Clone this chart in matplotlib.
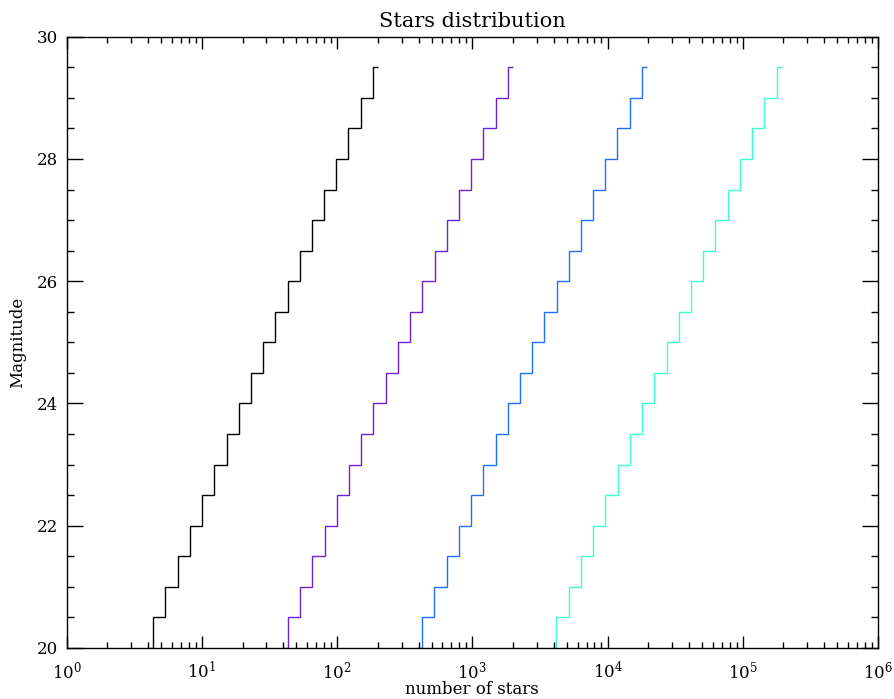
import matplotlib
matplotlib.use("Agg")
import matplotlib.pyplot as plt
from matplotlib.ticker import LogLocator, FixedLocator, MultipleLocator

plt.rcParams['font.family'] = ['DejaVu Serif']
plt.rcParams['mathtext.fontset'] = 'dejavuserif'

# magnitude levels (one horizontal step each)
magnitudes = [20.0, 20.5, 21.0, 21.5, 22.0, 22.5, 23.0, 23.5, 24.0, 24.5,
              25.0, 25.5, 26.0, 26.5, 27.0, 27.5, 28.0, 28.5, 29.0, 29.5]

# step edges along the "number of stars" axis, one list per curve
edges_black = [3.95, 4.33, 5.35, 6.6, 8.15, 10.0, 12.35, 15.2, 18.7, 23.0, 28.4,
               34.9, 43.0, 52.9, 65.1, 80.1, 98.6, 121, 149.5, 184, 202]
edges_purple = [39.2, 43.0, 53.1, 65.5, 80.9, 99.3, 122.6, 151, 185.7, 228, 282,
                347, 427, 525, 646, 795, 979, 1202, 1484, 1827, 2006]
edges_blue = [386, 423, 522, 644, 795, 976, 1205, 1484, 1825, 2245, 2772,
              3406, 4197, 5163, 6354, 7818, 9623, 11810, 14590, 17960, 19720]
edges_cyan = [3810, 4180, 5160, 6370, 7860, 9650, 11920, 14670, 18050, 22200, 27410,
              33680, 41500, 51050, 62820, 77300, 95150, 116800, 144300, 177600, 194900]

curves = [(edges_black, '#000000'), (edges_purple, '#6b22d2'),
          (edges_blue, '#1f6fff'), (edges_cyan, '#3cffd0')]

fig = plt.figure(figsize=(8.95, 6.99), dpi=100)
ax = fig.add_axes([66.7 / 895, 1 - 648 / 699, (878 - 66.7) / 895, (648 - 36.7) / 699])

for edges, col in curves:
    ax.stairs(magnitudes, edges, baseline=None, color=col, lw=1.0)

ax.set_xscale('log')
ax.set_xlim(1, 1e6)
ax.set_ylim(20, 30)

ax.xaxis.set_major_locator(LogLocator(base=10, numticks=10))
ax.xaxis.set_minor_locator(LogLocator(base=10, subs=range(2, 10), numticks=20))
ax.yaxis.set_major_locator(FixedLocator([20, 22, 24, 26, 28, 30]))
ax.yaxis.set_minor_locator(MultipleLocator(0.5))

ax.tick_params(axis='both', which='both', direction='in', top=True, right=True,
               width=1.0, colors='black', labelsize=12)
ax.tick_params(axis='x', which='major', length=8.5, pad=9)
ax.tick_params(axis='x', which='minor', length=4.3)
ax.tick_params(axis='y', which='major', length=11.5, pad=6)
ax.tick_params(axis='y', which='minor', length=5)
for s in ax.spines.values():
    s.set_linewidth(1.0)

ax.set_title('Stars distribution', fontsize=15, pad=7)
ax.set_xlabel('number of stars', fontsize=12, labelpad=-1)
ax.set_ylabel('Magnitude', fontsize=12, labelpad=8)

fig.savefig('out.png', dpi=100)
